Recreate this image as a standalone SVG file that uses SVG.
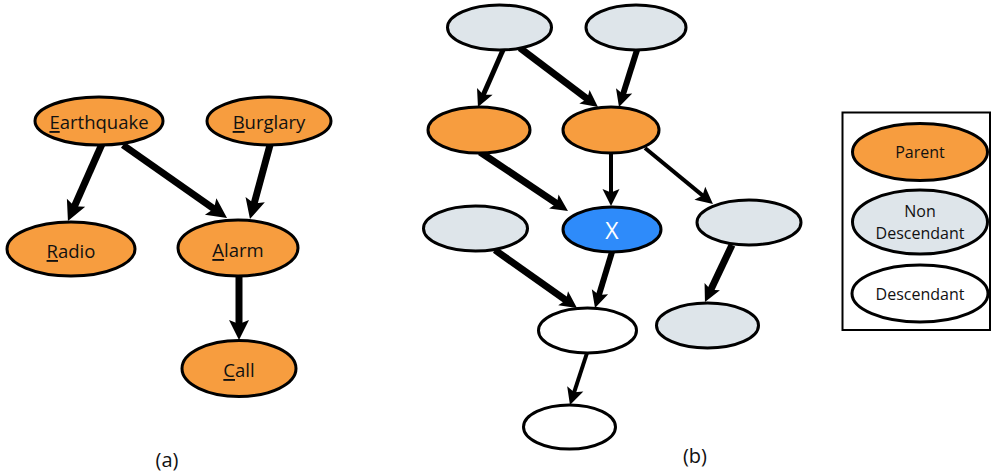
<svg xmlns="http://www.w3.org/2000/svg" width="992" height="473" viewBox="0 0 992 473">
<defs>
<style>
.n{stroke:#000;stroke-width:3}
.par{fill:#F79D3F}
.nd{fill:#DEE5EA}
.de{fill:#fff}
.x{fill:#2E8BFA}
.t{font-family:"Open Sans","Noto Sans",sans-serif;font-size:18.5px;fill:#111;text-anchor:middle;dominant-baseline:central}
.lg{font-family:"Open Sans","Noto Sans",sans-serif;font-size:16px;fill:#111;text-anchor:middle;dominant-baseline:central}
.cap{font-family:"Open Sans","Noto Sans",sans-serif;font-size:20px;fill:#111;text-anchor:middle;dominant-baseline:central}
.e{stroke:#000;fill:none}
.ea{marker-end:url(#ha)}
.eb{marker-end:url(#hb)}
</style>
<marker id="ha" markerUnits="userSpaceOnUse" markerWidth="20" markerHeight="20" viewBox="0 0 20 20" refX="8" refY="10" orient="auto" overflow="visible">
<path d="M0,0 L20,10 L0,20 L4,10 Z" fill="#000"/>
</marker>
<marker id="hb" markerUnits="userSpaceOnUse" markerWidth="17" markerHeight="17" viewBox="0 0 17 17" refX="5" refY="8.5" orient="auto" overflow="visible">
<path d="M0,0 L17,8.5 L0,17 L3.5,8.5 Z" fill="#000"/>
</marker>
</defs>
<rect width="992" height="473" fill="#fff"/>

<g id="edges">
<line class="e ea" x1="102" y1="144" x2="72.8" y2="210" stroke-width="7"/>
<line class="e ea" x1="123" y1="145" x2="217.2" y2="211.1" stroke-width="7"/>
<line class="e ea" x1="270" y1="145" x2="253.1" y2="207.4" stroke-width="7"/>
<line class="e ea" x1="239" y1="277" x2="239" y2="328" stroke-width="7"/>

<line class="e eb" x1="503" y1="50" x2="482.8" y2="96" stroke-width="5"/>
<line class="e eb" x1="520" y1="48" x2="588.4" y2="99.8" stroke-width="7"/>
<line class="e eb" x1="637" y1="50" x2="622.6" y2="95.6" stroke-width="6"/>
<line class="e eb" x1="480" y1="152" x2="558" y2="204.3" stroke-width="7"/>
<line class="e eb" x1="611" y1="153" x2="611" y2="194" stroke-width="4"/>
<line class="e eb" x1="645" y1="148" x2="703.7" y2="196.4" stroke-width="4"/>
<line class="e eb" x1="495" y1="250" x2="567.2" y2="301.1" stroke-width="7"/>
<line class="e eb" x1="612" y1="252" x2="598.5" y2="296.5" stroke-width="6"/>
<line class="e eb" x1="732" y1="245" x2="710.1" y2="291.2" stroke-width="7"/>
<line class="e eb" x1="587" y1="353" x2="573.7" y2="393.6" stroke-width="4"/>
</g>

<g id="earthquake"><ellipse class="n par" cx="99" cy="121" rx="64" ry="24"/><text class="t" x="99" y="121"><tspan text-decoration="underline">E</tspan>arthquake</text></g>
<g id="burglary"><ellipse class="n par" cx="269" cy="121" rx="62" ry="24"/><text class="t" x="269" y="121"><tspan text-decoration="underline">B</tspan>urglary</text></g>
<g id="radio"><ellipse class="n par" cx="71" cy="249" rx="64" ry="27"/><text class="t" x="71" y="250"><tspan text-decoration="underline">R</tspan>adio</text></g>
<g id="alarm"><ellipse class="n par" cx="238" cy="248" rx="60" ry="28"/><text class="t" x="238" y="249"><tspan text-decoration="underline">A</tspan>larm</text></g>
<g id="call"><ellipse class="n par" cx="239" cy="368.5" rx="57" ry="28"/><text class="t" x="239" y="369"><tspan text-decoration="underline">C</tspan>all</text></g>

<g id="b-nd-top-left"><ellipse class="n nd" cx="499.5" cy="27.5" rx="52" ry="22.5"/></g>
<g id="b-nd-top-right"><ellipse class="n nd" cx="636" cy="27.5" rx="50" ry="22.5"/></g>
<g id="b-parent-left"><ellipse class="n par" cx="479" cy="130" rx="51" ry="23"/></g>
<g id="b-parent-right"><ellipse class="n par" cx="611" cy="130" rx="48" ry="23"/></g>
<g id="b-x"><ellipse class="n x" cx="612" cy="229.5" rx="49" ry="22.5"/><text x="612" y="230" font-family="Open Sans, Noto Sans, sans-serif" font-size="23" fill="#fff" text-anchor="middle" dominant-baseline="central">X</text></g>
<g id="b-nd-mid-left"><ellipse class="n nd" cx="475.5" cy="228.5" rx="52" ry="22.5"/></g>
<g id="b-nd-mid-right"><ellipse class="n nd" cx="749" cy="222.5" rx="52" ry="22.5"/></g>
<g id="b-desc-1"><ellipse class="n de" cx="587.5" cy="330.5" rx="49" ry="22.5"/></g>
<g id="b-nd-bottom-right"><ellipse class="n nd" cx="707.5" cy="325.5" rx="51" ry="22.5"/></g>
<g id="b-desc-2"><ellipse class="n de" cx="569.5" cy="427" rx="46" ry="22"/></g>

<g id="legend">
<rect x="842.5" y="112.5" width="147.5" height="217.5" fill="none" stroke="#000" stroke-width="2"/>
<g id="legend-parent"><ellipse class="n par" cx="920" cy="152" rx="67.5" ry="28.5"/><text class="lg" x="920" y="152">Parent</text></g>
<g id="legend-nondesc"><ellipse class="n nd" cx="920" cy="222" rx="67.5" ry="32"/><text class="lg" x="920" y="211">Non</text><text class="lg" x="920" y="233">Descendant</text></g>
<g id="legend-desc"><ellipse class="n de" cx="920" cy="293.5" rx="68" ry="28.5"/><text class="lg" x="920" y="294">Descendant</text></g>
</g>

<text class="cap" x="167" y="459">(a)</text>
<text class="cap" x="695" y="455">(b)</text>
</svg>
